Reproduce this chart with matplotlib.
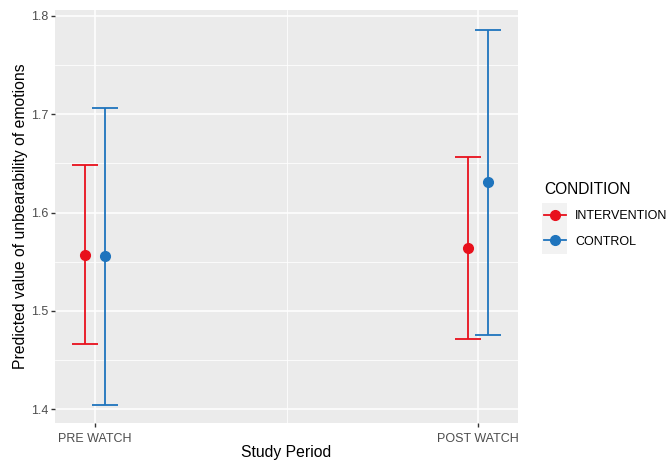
import matplotlib
matplotlib.use("Agg")
import matplotlib.pyplot as plt
from matplotlib.lines import Line2D
from matplotlib.patches import Rectangle
import numpy as np

plt.rcParams["font.family"] = ["Liberation Sans", "DejaVu Sans"]

periods = ["PRE WATCH", "POST WATCH"]
conditions = ["INTERVENTION", "CONTROL"]
colors = ["#E8101C", "#1F74BD"]
est = {"INTERVENTION": [1.557, 1.564], "CONTROL": [1.556, 1.631]}
lower = {"INTERVENTION": [1.466, 1.471], "CONTROL": [1.404, 1.476]}
upper = {"INTERVENTION": [1.648, 1.657], "CONTROL": [1.706, 1.786]}
yticks = [1.4, 1.5, 1.6, 1.7, 1.8]

fig = plt.figure(figsize=(6.68, 4.61), dpi=100)
ax = fig.add_axes([55/668, 38/461, 463/668, 413/461])
ax.set_facecolor("#EBEBEB")
for s in ax.spines.values():
    s.set_visible(False)

x = np.arange(1, len(periods) + 1)
dodge = [-0.026, 0.026]
for cond, col, d in zip(conditions, colors, dodge):
    e = np.array(est[cond]); lo = np.array(lower[cond]); hi = np.array(upper[cond])
    ax.errorbar(x + d, e, yerr=[e - lo, hi - e], fmt="o", color=col, ecolor=col,
                elinewidth=1.3, capsize=9.5, capthick=1.3, markersize=7, zorder=3)

ax.set_xlim(0.8956, 2.1044)
ax.set_ylim(1.386, 1.806)
ax.set_yticks(yticks)
ax.set_yticks([1.45, 1.55, 1.65, 1.75], minor=True)
ax.set_xticks(x)
ax.set_xticks([1.5], minor=True)
ax.set_xticklabels(periods)
ax.set_yticklabels([f"{v:.1f}" for v in yticks])
ax.grid(which="major", color="white", linewidth=1.1, zorder=0)
ax.grid(which="minor", color="white", linewidth=0.55, zorder=0)
ax.set_axisbelow(True)
ax.tick_params(which="major", length=3, width=1, color="#333333", labelcolor="#4D4D4D", labelsize=9, pad=2)
ax.tick_params(axis="x", which="major", pad=4)
ax.tick_params(which="minor", length=0)
ax.set_xlabel("Study Period", fontsize=11.3, color="black", labelpad=0)
ax.set_ylabel("Predicted value of unbearability of emotions", fontsize=11.3, color="black", labelpad=2)

# legend
fig.patches.append(Rectangle((542/668, 1 - 254/461), 25/668, 51/461, transform=fig.transFigure,
                             facecolor="#F2F2F2", edgecolor="none", zorder=0))
handles = [Line2D([0], [0], color=c, marker="o", markersize=7, linewidth=1.3) for c in colors]
leg = fig.legend(handles, conditions, loc="upper left", bbox_to_anchor=(533/668, 1 - 171/461),
                 frameon=False, title="CONDITION", fontsize=9, title_fontsize=11.2,
                 handlelength=1.7, handletextpad=0.75, labelspacing=1.05, alignment="left")

fig.savefig("out.png", dpi=100)
